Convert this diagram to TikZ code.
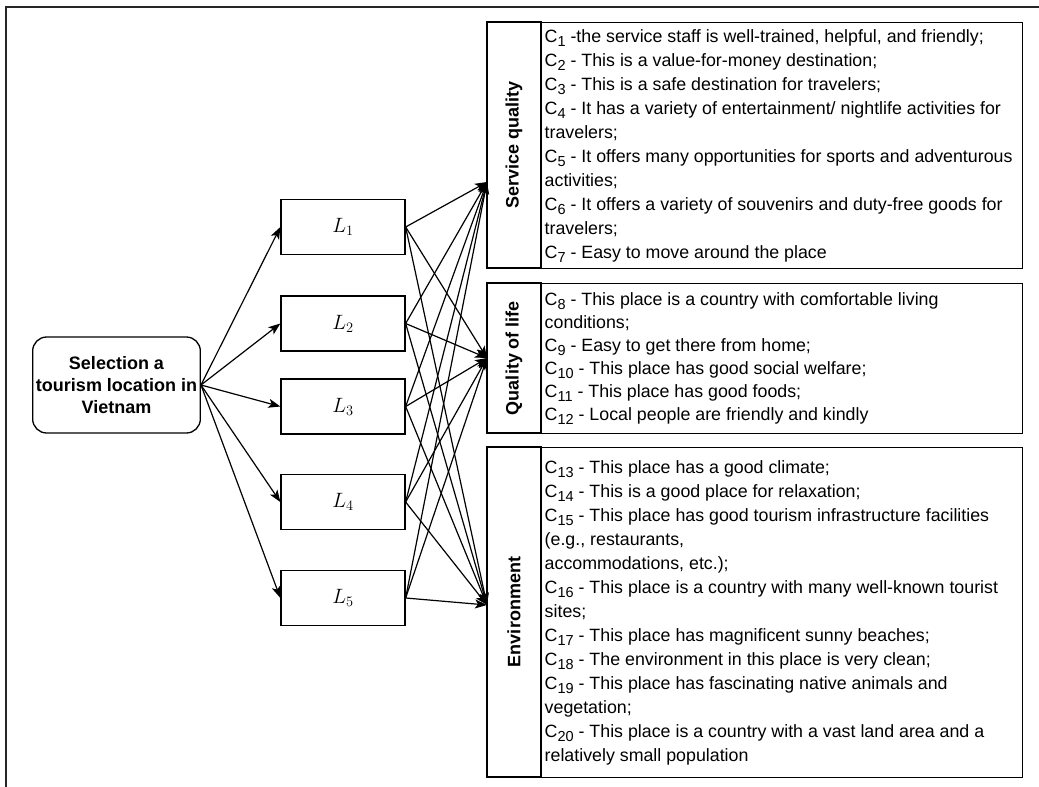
\documentclass[tikz,border=0pt]{standalone}
\usepackage{fontspec}
\newfontfamily\helv{Liberation Sans}
\usetikzlibrary{arrows.meta}

\newcommand{\crit}[1]{C\raisebox{-4pt}{\fontsize{14.5}{14.5}\selectfont #1}}

\tikzset{
  goalbox/.style={draw, line width=1.3pt, rounded corners=14pt, minimum width=165pt, minimum height=96pt, align=center, font=\helv\bfseries\fontsize{18}{22}\selectfont},
  altbox/.style={draw, line width=1.3pt, minimum width=124pt, minimum height=55pt, font=\fontsize{19.5}{23}\selectfont},
  catlabel/.style={draw, line width=1.3pt, rotate=90, inner sep=0pt, minimum height=54pt, font=\helv\bfseries\fontsize{18}{22}\selectfont},
  itemframe/.style={draw, line width=1.3pt, anchor=north west, minimum width=481pt, inner sep=0pt},
  itemlist/.style={anchor=west, align=left, inner xsep=3.5pt, font=\helv\fontsize{17.8}{24}\selectfont},
  link/.style={line width=1.2pt, -{Stealth[length=12pt,width=9pt,inset=3pt]}},
}

\begin{document}
\begin{tikzpicture}[x=1pt,y=-1pt]
\useasboundingbox (0,0) rectangle (1039,787);

% Drawing frame
\draw [line width=1.5pt, black!85] (6,787) -- (6,7) -- (1039,7);

% Drawing goal and alternatives
\node [goalbox] (goal) at (116.5,385) {Selection a\\tourism location in\\Vietnam};
\node [altbox] (L1) at (343,227) {$L_1$};
\node [altbox] (L2) at (343,323.5) {$L_2$};
\node [altbox] (L3) at (343,406.5) {$L_3$};
\node [altbox] (L4) at (343,502) {$L_4$};
\node [altbox] (L5) at (343,598) {$L_5$};

% Drawing criteria groups
\node [catlabel, minimum width=246pt] (sqlabel) at (514,145) {Service quality};
\node [itemframe, minimum height=246pt] (sqframe) at (541,22) {};
\node [itemlist] (sqitems) at (sqframe.west) {%
\crit{1} -the service staff is well-trained, helpful, and friendly;\\
\crit{2} - This is a value-for-money destination;\\
\crit{3} - This is a safe destination for travelers;\\
\crit{4} - It has a variety of entertainment/ nightlife activities for\\
travelers;\\
\crit{5} - It offers many opportunities for sports and adventurous\\
activities;\\
\crit{6} - It offers a variety of souvenirs and duty-free goods for\\
travelers;\\
\crit{7} - Easy to move around the place};

\node [catlabel, minimum width=150pt] (qollabel) at (514,358) {Quality of life};
\node [itemframe, minimum height=150pt] (qolframe) at (541,283) {};
\node [itemlist, font=\helv\fontsize{17.8}{23}\selectfont] (qolitems) at (qolframe.west) {%
\crit{8} - This place is a country with comfortable living\\
conditions;\\
\crit{9} - Easy to get there from home;\\
\crit{10} - This place has good social welfare;\\
\crit{11} - This place has good foods;\\
\crit{12} - Local people are friendly and kindly};

\node [catlabel, minimum width=330pt] (envlabel) at (514,612) {Environment};
\node [itemframe, minimum height=330pt] (envframe) at (541,447) {};
\node [itemlist] (envitems) at (envframe.west) {%
\crit{13} - This place has a good climate;\\
\crit{14} - This is a good place for relaxation;\\
\crit{15} - This place has good tourism infrastructure facilities\\
(e.g., restaurants,\\
accommodations, etc.);\\
\crit{16} - This place is a country with many well-known tourist\\
sites;\\
\crit{17} - This place has magnificent sunny beaches;\\
\crit{18} - The environment in this place is very clean;\\
\crit{19} - This place has fascinating native animals and\\
vegetation;\\
\crit{20} - This place is a country with a vast land area and a\\
relatively small population};

\coordinate (sqin) at (487,182);
\coordinate (qolin) at (487,358);
\coordinate (envin) at (487,605);

% Drawing goal to alternatives
\draw [link] (goal.east) -- (L1.west);
\draw [link] (goal.east) -- (L2.west);
\draw [link] (goal.east) -- (L3.west);
\draw [link] (goal.east) -- (L4.west);
\draw [link] (goal.east) -- (L5.west);

% Drawing alternatives to criteria
\draw [link] (L1.east) -- (sqin);
\draw [link] (L1.east) -- (qolin);
\draw [link] (L1.east) -- (envin);
\draw [link] (L2.east) -- (sqin);
\draw [link] (L2.east) -- (qolin);
\draw [link] (L2.east) -- (envin);
\draw [link] (L3.east) -- (sqin);
\draw [link] (L3.east) -- (qolin);
\draw [link] (L3.east) -- (envin);
\draw [link] (L4.east) -- (sqin);
\draw [link] (L4.east) -- (qolin);
\draw [link] (L4.east) -- (envin);
\draw [link] (L5.east) -- (sqin);
\draw [link] (L5.east) -- (qolin);
\draw [link] (L5.east) -- (envin);
\end{tikzpicture}
\end{document}
